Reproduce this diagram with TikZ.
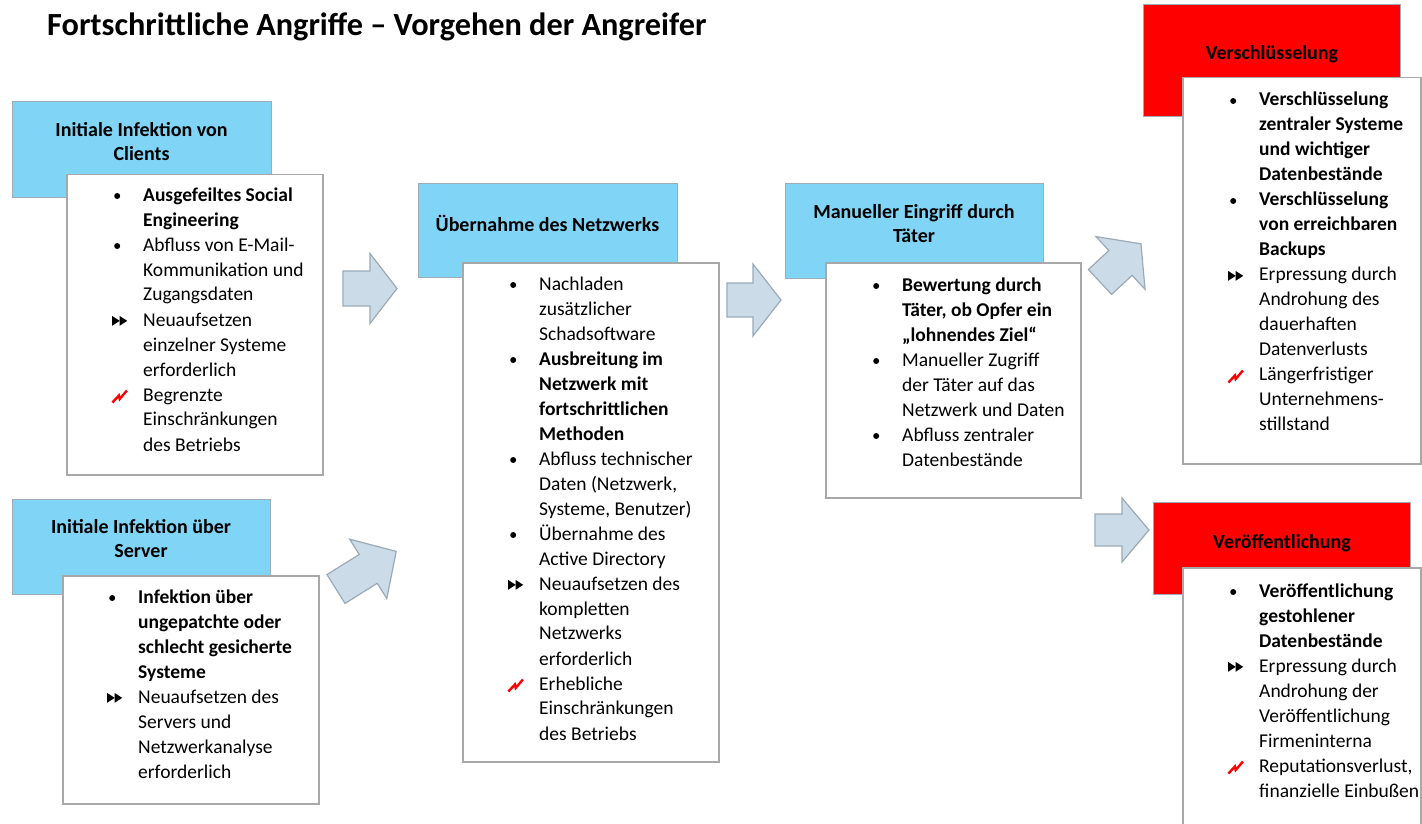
\documentclass[tikz,border=0pt]{standalone}
\usepackage{fontspec}
\setmainfont{Carlito}
\definecolor{hblue}{HTML}{80D4F6}
\definecolor{hred}{HTML}{FF0000}
\definecolor{hborder}{HTML}{9EACB8}
\definecolor{bborder}{HTML}{A8A8A8}
\definecolor{afill}{HTML}{CBDCE8}
\definecolor{aborder}{HTML}{9AAAB6}
\newcommand\Lbul{\leavevmode\llap{\makebox[29pt][l]{\tikz[x=1pt,y=1pt,baseline=0pt]{\path (0,0) rectangle (14,10);\fill[black] (3,5) circle (3);}}}}
\newcommand\Lfw{\leavevmode\llap{\makebox[31pt][l]{\tikz[x=1pt,y=1pt,baseline=0pt]{\path (0,0) rectangle (15,10);\fill[black] (0,0.3) -- (0,10) -- (7.5,5.15) -- cycle;\fill[black] (7.5,0.3) -- (7.5,10) -- (15,5.15) -- cycle;}}}}
\newcommand\Lbolt{\leavevmode\llap{\makebox[32pt][l]{\tikz[x=1pt,y=1pt,baseline=0pt]{\path (0,0) rectangle (15,10);\draw[hred,line width=2.4pt,line join=miter] (0.5,-1.5) -- (7,5.5) -- (7.8,2) -- (15,10.5);}}}}
\newcommand\blockarrow[7]{\begin{scope}[shift={(#1,#2)},rotate=#3]
\draw[arrowst] (0,#6) -- ({#4-#5},#6) -- ({#4-#5},#7) -- (#4,0) -- ({#4-#5},-#7) -- ({#4-#5},-#6) -- (0,-#6) -- cycle;
\end{scope}}
\tikzset{
 head/.style={draw=hborder, line width=1pt, fill=hblue, anchor=north west, inner sep=0},
 headred/.style={draw=hborder, line width=1pt, fill=hred, anchor=north west, inner sep=0},
 card/.style={draw=bborder, line width=1.5pt, fill=white, anchor=north west, inner sep=0},
 htext/.style={font=\bfseries\fontsize{20}{24}\selectfont, align=center, inner sep=0},
 ltext/.style={inner sep=0, anchor=base west},
 arrowst/.style={draw=aborder, line width=1.2pt, fill=afill, line join=miter}
}
\newcommand\lst[1]{\parbox[t]{260pt}{\fontsize{19.5}{25}\selectfont\raggedright #1}}
\begin{document}
\begin{tikzpicture}[x=1pt,y=-1pt]
\useasboundingbox (0,0) rectangle (1422,824);
\fill[white] (0,0) rectangle (1422,824);
\node[anchor=base west, inner sep=0, font=\bfseries\fontsize{32.3}{36}\selectfont] (title) at (47,36) {Fortschrittliche Angriffe – Vorgehen der Angreifer};

% column 1 top
\node[head, minimum width=259pt, minimum height=96pt] (h1) at (12,101) {};
\node[htext] (h1t) at (141.5,142) {Initiale Infektion von\\Clients};
\node[card, minimum width=256pt, minimum height=300pt] (c1) at (66,174) {};
\node[ltext] (l1) at (143,201) {\lst{%
\Lbul\textbf{Ausgefeiltes Social}\\
\textbf{Engineering}\\
\Lbul Abfluss von E-Mail-\\
Kommunikation und\\
Zugangsdaten\\
\Lfw Neuaufsetzen\\
einzelner Systeme\\
erforderlich\\
\Lbolt Begrenzte\\
Einschränkungen\\
des Betriebs}};

% column 1 bottom
\node[head, minimum width=258pt, minimum height=95pt] (h2) at (12,499) {};
\node[htext] (h2t) at (141,538.5) {Initiale Infektion über\\Server};
\node[card, minimum width=256pt, minimum height=228pt] (c2) at (62,575) {};
\node[ltext] (l2) at (138,603) {\lst{%
\Lbul\textbf{Infektion über}\\
\textbf{ungepatchte oder}\\
\textbf{schlecht gesicherte}\\
\textbf{Systeme}\\
\Lfw Neuaufsetzen des\\
Servers und\\
Netzwerkanalyse\\
erforderlich}};

% column 2
\node[head, minimum width=259pt, minimum height=94pt] (h3) at (418,183) {};
\node[htext] (h3t) at (547.5,223) {Übernahme des Netzwerks};
\node[card, minimum width=256pt, minimum height=499pt] (c3) at (462,262) {};
\node[ltext] (l3) at (539,290) {\lst{%
\Lbul Nachladen\\
zusätzlicher\\
Schadsoftware\\
\Lbul\textbf{Ausbreitung im}\\
\textbf{Netzwerk mit}\\
\textbf{fortschrittlichen}\\
\textbf{Methoden}\\
\Lbul Abfluss technischer\\
Daten (Netzwerk,\\
Systeme, Benutzer)\\
\Lbul Übernahme des\\
Active Directory\\
\Lfw Neuaufsetzen des\\
kompletten\\
Netzwerks\\
erforderlich\\
\Lbolt Erhebliche\\
Einschränkungen\\
des Betriebs}};

% column 3
\node[head, minimum width=258pt, minimum height=95pt] (h4) at (785,183) {};
\node[htext] (h4t) at (914,223.5) {Manueller Eingriff durch\\Täter};
\node[card, minimum width=255pt, minimum height=235pt] (c4) at (825,262) {};
\node[ltext] (l4) at (902,291) {\lst{%
\Lbul\textbf{Bewertung durch}\\
\textbf{Täter, ob Opfer ein}\\
\textbf{„lohnendes Ziel“}\\
\Lbul Manueller Zugriff\\
der Täter auf das\\
Netzwerk und Daten\\
\Lbul Abfluss zentraler\\
Datenbestände}};

% column 4 top
\node[headred, minimum width=257pt, minimum height=112pt] (h5) at (1143,4) {};
\node[htext] (h5t) at (1272,54) {Verschlüsselung};
\node[card, minimum width=238pt, minimum height=386pt] (c5) at (1182,77) {};
\node[ltext] (l5) at (1259,106) {\lst{%
\Lbul\textbf{Verschlüsselung}\\
\textbf{zentraler Systeme}\\
\textbf{und wichtiger}\\
\textbf{Datenbestände}\\
\Lbul\textbf{Verschlüsselung}\\
\textbf{von erreichbaren}\\
\textbf{Backups}\\
\Lfw Erpressung durch\\
Androhung des\\
dauerhaften\\
Datenverlusts\\
\Lbolt Längerfristiger\\
Unternehmens-\\
stillstand}};

% column 4 bottom
\node[headred, minimum width=257pt, minimum height=92pt] (h6) at (1153,502) {};
\node[htext] (h6t) at (1282,543) {Veröffentlichung};
\node[card, minimum width=238pt, minimum height=262pt] (c6) at (1182,567) {};
\node[ltext] (l6) at (1259,597) {\lst{%
\Lbul\textbf{Veröffentlichung}\\
\textbf{gestohlener}\\
\textbf{Datenbestände}\\
\Lfw Erpressung durch\\
Androhung der\\
Veröffentlichung\\
Firmeninterna\\
\Lbolt Reputationsverlust,\\
finanzielle Einbußen}};

% block arrows
\blockarrow{343}{288.5}{0}{54}{27}{17.5}{35}
\blockarrow{336}{589}{32}{71}{33}{17}{35}
\blockarrow{727}{300}{0}{54}{28}{17}{36}
\blockarrow{1100}{282}{43}{56}{28}{17}{36}
\blockarrow{1095}{530}{0}{54}{27}{16}{32}
\end{tikzpicture}
\end{document}
